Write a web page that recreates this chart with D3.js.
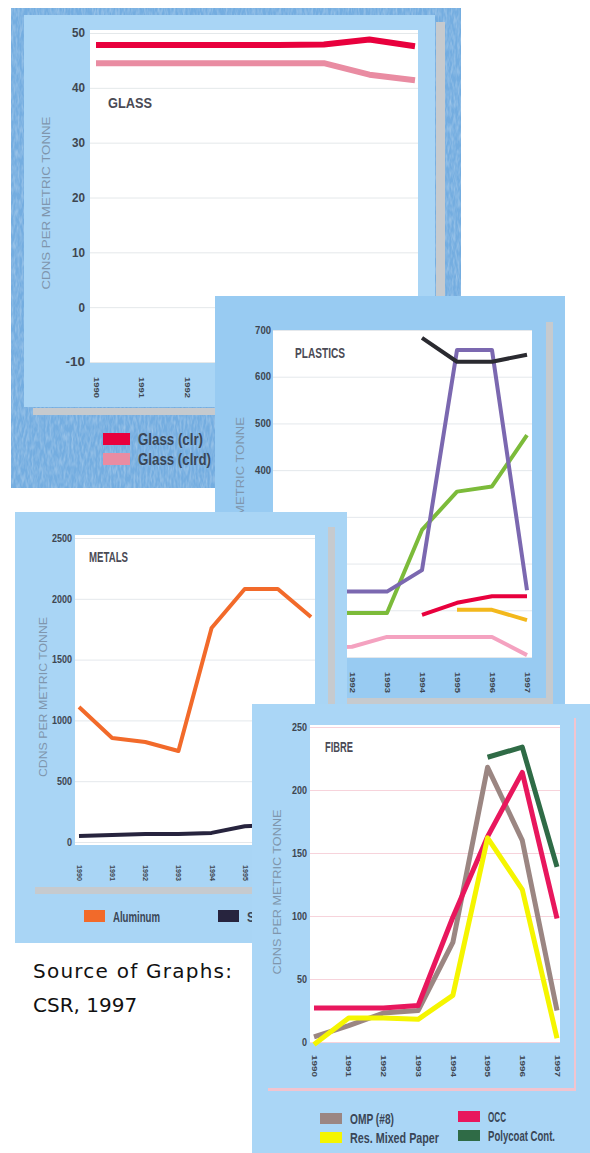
<!DOCTYPE html>
<html>
<head>
<meta charset="utf-8">
<script src="https://cdn.jsdelivr.net/npm/d3@7"></script>
<style>
  body { margin: 0; background: #fff; }
  svg { display: block; }
</style>
</head>
<body>
<svg id="chart" width="590" height="1153"></svg>
<script>
// ---- data ----
const years = [1990, 1991, 1992, 1993, 1994, 1995, 1996, 1997];

// glass
const glassTicks = [-10, 0, 10, 20, 30, 40, 50];
const glassClr  = [47.8, 47.8, 47.8, 47.8, 47.8, 47.9, 48.8, 47.6];
const glassClrd = [44.5, 44.5, 44.5, 44.5, 44.5, 44.5, 42.4, 41.4];

// plastics (legend is hidden under the fibre panel)
const plasticsTicks  = [0, 100, 200, 300, 400, 500, 600, 700];
const plasticsBlack  = [null, null, null, null, 683, 632, 632, 647];
const plasticsPurple = [140, 140, 140, 140, 186, 657, 657, 143];
const plasticsGreen  = [94, 94, 94, 94, 272, 354, 365, 475];
const plasticsRed    = [null, null, null, null, 90, 116, 130, 130];
const plasticsYellow = [null, null, null, null, null, 101, 101, 79];
const plasticsPink   = [20, 20, 22, 43, 43, 43, 43, 4];

// metals
const metalsTicks = [0, 500, 1000, 1500, 2000, 2500];
const aluminum = [1110, 855, 822, 748, 1760, 2080, 2080, 1850];
const steel    = [50, 58, 65, 66, 75, 130, 140, 150];

// fibre
const fibreTicks = [0, 50, 100, 150, 200, 250];
const omp      = [4, 13, 23, 25, 79, 218, 160, 25];
const occ      = [27, 27, 27, 29, 99, 163, 214, 98];
const mixed    = [-2, 19, 19, 18, 37, 162, 121, 3];
const polycoat = [null, null, null, null, null, 226, 234, 139];

const svg = d3.select("#chart");
const tickFont = "'Liberation Sans',Arial,sans-serif";

// mottled texture for the printed backdrop behind the glass panel
const grain = svg.append("defs").append("filter").attr("id", "grain")
  .attr("x", 0).attr("y", 0).attr("width", 1).attr("height", 1);
grain.append("feTurbulence").attr("type", "fractalNoise")
  .attr("baseFrequency", "0.5 0.12").attr("numOctaves", 2).attr("seed", 4);
grain.append("feColorMatrix").attr("type", "matrix")
  .attr("values", "0 0 0 0 1  0 0 0 0 1  0 0 0 0 1  0.55 0 0 0 -0.2");

function drawPanel(p) {
  const g = svg.append("g");

  // outer backing (only the glass one has the darker frame)
  if (p.outer) {
    g.append("rect").attr("x", p.outer[0]).attr("y", p.outer[1])
      .attr("width", p.outer[2]).attr("height", p.outer[3]).attr("fill", "#74ade0");
    g.append("rect").attr("x", p.outer[0]).attr("y", p.outer[1])
      .attr("width", p.outer[2]).attr("height", p.outer[3]).attr("fill", "#fff")
      .attr("filter", "url(#grain)");
  }
  g.append("rect").attr("x", p.box[0]).attr("y", p.box[1])
    .attr("width", p.box[2]).attr("height", p.box[3]).attr("fill", p.boxFill);

  // shadow strips
  p.shadows.forEach(s => {
    g.append("rect").attr("x", s[0]).attr("y", s[1]).attr("width", s[2]).attr("height", s[3])
      .attr("fill", s[4] || "#c6cace");
  });

  // plot area
  const [px, py, pw, ph] = p.plot;
  g.append("rect").attr("x", px).attr("y", py).attr("width", pw).attr("height", ph).attr("fill", "#fff");

  const x = d3.scaleLinear().domain([1990, 1997]).range(p.xRange);
  const y = d3.scaleLinear().domain(p.yDomain).range(p.yRange);

  // grid
  const grid = g.append("g").attr("transform", `translate(${px},0)`)
    .call(d3.axisLeft(y).tickValues(p.yTicks).tickSize(-pw).tickFormat(""));
  grid.select(".domain").remove();
  grid.selectAll("line").attr("stroke", p.gridColor).attr("stroke-width", 1);

  // y tick labels
  const ya = g.append("g").attr("transform", `translate(${px},0)`)
    .call(d3.axisLeft(y).tickValues(p.yTicks).tickSize(0).tickPadding(p.yPad).tickFormat(d => String(d)));
  ya.select(".domain").remove();
  ya.selectAll("text").attr("font-family", tickFont).attr("font-weight", "bold")
    .attr("font-size", p.yFont).attr("fill", "#3e4650")
    .attr("textLength", d => String(d).length * p.yDigit).attr("lengthAdjust", "spacingAndGlyphs");

  // year labels, rotated
  const xa = g.append("g").attr("transform", `translate(0,${p.yearTop})`)
    .call(d3.axisBottom(x).tickValues(years).tickSize(0).tickFormat(d3.format("d")));
  xa.select(".domain").remove();
  xa.selectAll("text").attr("transform", "rotate(90)").attr("x", 0).attr("y", 0)
    .attr("dy", "0.35em").attr("text-anchor", "start")
    .attr("font-family", tickFont).attr("font-weight", "bold")
    .attr("font-size", p.yearFont).attr("fill", "#3e4650")
    .attr("textLength", p.yearLen).attr("lengthAdjust", "spacingAndGlyphs");

  // axis title
  g.append("text")
    .attr("transform", `translate(${p.titlePos[0]},${p.titlePos[1]}) rotate(-90)`)
    .attr("text-anchor", "middle").attr("dy", "0.35em")
    .attr("font-family", "'Liberation Sans',Arial,sans-serif").attr("font-size", 11)
    .attr("fill", "#7f96ad").attr("textLength", p.titleLen).attr("lengthAdjust", "spacingAndGlyphs")
    .text("CDNS PER METRIC TONNE");

  // panel name
  g.append("text").attr("x", p.namePos[0]).attr("y", p.namePos[1])
    .attr("font-family", tickFont).attr("font-weight", "bold").attr("font-size", 15)
    .attr("fill", "#4a4a55").attr("textLength", p.nameLen).attr("lengthAdjust", "spacingAndGlyphs")
    .text(p.name);

  // series
  const line = d3.line()
    .defined(d => d[1] != null)
    .x(d => x(d[0]))
    .y(d => y(d[1]));
  p.series.forEach(s => {
    g.append("path")
      .datum(years.map((yr, i) => [yr, s.values[i]]))
      .attr("fill", "none").attr("stroke", s.color).attr("stroke-width", p.lineWidth)
      .attr("stroke-linejoin", "round")
      .attr("d", line);
  });

  // legend
  (p.legend || []).forEach(l => {
    g.append("rect").attr("x", l.x).attr("y", l.y).attr("width", l.w).attr("height", l.h).attr("fill", l.color);
    g.append("text").attr("x", l.x + l.w + 8).attr("y", l.y + l.h)
      .attr("font-family", tickFont).attr("font-weight", "bold").attr("font-size", l.font)
      .attr("fill", "#3a4656").attr("textLength", l.len).attr("lengthAdjust", "spacingAndGlyphs")
      .text(l.label);
  });
  return g;
}

// GLASS
drawPanel({
  outer: [11, 8, 450, 480],
  box: [24, 15, 411, 392], boxFill: "#a9d5f5",
  shadows: [[436, 22, 9, 393], [33, 408, 412, 7]],
  plot: [90, 30, 328, 333],
  xRange: [96, 415], yDomain: [-10, 50], yRange: [362, 33], yTicks: glassTicks,
  gridColor: "#e4e8ea", yPad: 5, yFont: 12, yDigit: 6.5, yearTop: 377, yearFont: 8, yearLen: 21,
  titlePos: [46, 203], titleLen: 173,
  name: "GLASS", namePos: [108, 108], nameLen: 44,
  lineWidth: 6,
  series: [
    { values: glassClrd, color: "#e98ca2" },
    { values: glassClr,  color: "#e8003d" }
  ],
  legend: [
    { x: 103, y: 433, w: 27, h: 12, color: "#e8003d", label: "Glass (clr)", font: 16, len: 65 },
    { x: 103, y: 453, w: 27, h: 12, color: "#e98ca2", label: "Glass (clrd)", font: 16, len: 73 }
  ]
});

// PLASTICS
drawPanel({
  box: [215, 296, 350, 408], boxFill: "#98cbf2",
  shadows: [[546, 322, 7, 378], [328, 698, 225, 6]],
  plot: [273, 330, 259, 328],
  xRange: [282, 527], yDomain: [0, 700], yRange: [657, 330], yTicks: plasticsTicks,
  gridColor: "#e4e8ec", yPad: 2, yFont: 10, yDigit: 5.3, yearTop: 672, yearFont: 8, yearLen: 21,
  titlePos: [240, 502], titleLen: 170,
  name: "PLASTICS", namePos: [295, 358], nameLen: 50,
  lineWidth: 4,
  series: [
    { values: plasticsPink,   color: "#f4a2c0" },
    { values: plasticsGreen,  color: "#7cbb3a" },
    { values: plasticsPurple, color: "#7b68b0" },
    { values: plasticsRed,    color: "#e8003d" },
    { values: plasticsYellow, color: "#f3b81c" },
    { values: plasticsBlack,  color: "#2a2a30" }
  ]
});

// METALS
drawPanel({
  box: [15, 512, 332, 431], boxFill: "#a9d5f5",
  shadows: [[328, 527, 7, 367], [35, 887, 300, 7]],
  plot: [75, 535, 240, 310],
  xRange: [79, 311], yDomain: [0, 2500], yRange: [842, 538], yTicks: metalsTicks,
  gridColor: "#e4e8ec", yPad: 3, yFont: 10, yDigit: 5, yearTop: 865, yearFont: 7, yearLen: 16,
  titlePos: [43, 697], titleLen: 160,
  name: "METALS", namePos: [89, 562], nameLen: 39,
  lineWidth: 4,
  series: [
    { values: steel,    color: "#27243e" },
    { values: aluminum, color: "#f26a2a" }
  ],
  legend: [
    { x: 84, y: 910, w: 21, h: 12, color: "#f26a2a", label: "Aluminum", font: 15, len: 47 },
    { x: 218, y: 910, w: 21, h: 12, color: "#27243e", label: "Steel", font: 15, len: 28 }
  ]
});

// FIBRE
drawPanel({
  box: [252, 704, 338, 449], boxFill: "#aad6f6",
  shadows: [[574, 718, 2, 372, "#f2c4cf"], [268, 1088, 308, 3, "#f2c4cf"]],
  plot: [310, 725, 250, 318],
  xRange: [314, 557], yDomain: [0, 250], yRange: [1042, 727], yTicks: fibreTicks,
  gridColor: "#f7d3db", yPad: 3, yFont: 10, yDigit: 5, yearTop: 1055, yearFont: 8, yearLen: 22,
  titlePos: [277, 892], titleLen: 165,
  name: "FIBRE", namePos: [325, 752], nameLen: 28,
  lineWidth: 5,
  series: [
    { values: omp,      color: "#9b8682" },
    { values: occ,      color: "#e8175d" },
    { values: mixed,    color: "#f5f500" },
    { values: polycoat, color: "#2f6b46" }
  ],
  legend: [
    { x: 320, y: 1113, w: 22, h: 11, color: "#9b8682", label: "OMP (#8)", font: 15, len: 44 },
    { x: 320, y: 1132, w: 22, h: 11, color: "#f5f500", label: "Res. Mixed Paper", font: 15, len: 89 },
    { x: 458, y: 1111, w: 22, h: 11, color: "#e8175d", label: "OCC", font: 15, len: 18 },
    { x: 458, y: 1130, w: 22, h: 11, color: "#2f6b46", label: "Polycoat Cont.", font: 15, len: 67 }
  ]
});

// source note
svg.append("text").attr("x", 33).attr("y", 978)
  .attr("font-family", "'DejaVu Sans',sans-serif").attr("font-size", 20).attr("fill", "#111")
  .attr("textLength", 199).attr("lengthAdjust", "spacing")
  .text("Source of Graphs:");
svg.append("text").attr("x", 33).attr("y", 1012)
  .attr("font-family", "'DejaVu Sans',sans-serif").attr("font-size", 20).attr("fill", "#111")
  .text("CSR, 1997");
</script>
</body>
</html>
